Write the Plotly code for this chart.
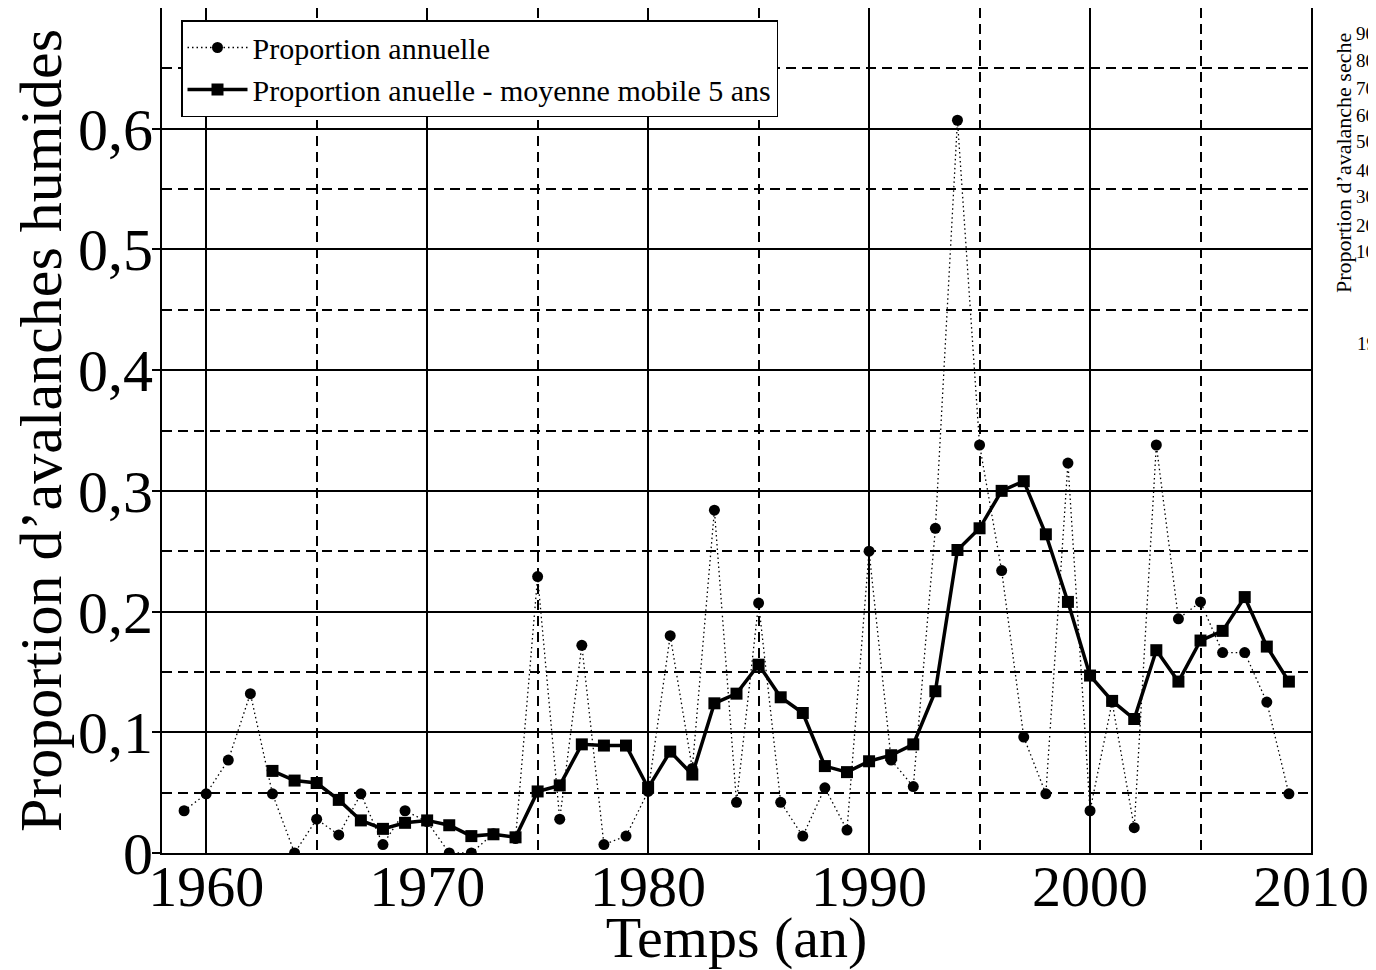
import plotly.graph_objects as go

# ---------------- data ----------------
years_annual = list(range(1959, 2010))
annual = [0.035, 0.049, 0.077, 0.132, 0.049, 0.0, 0.028, 0.015, 0.049, 0.007,
          0.035, 0.026, 0.0, 0.0, 0.016, 0.012, 0.229, 0.028, 0.172, 0.007,
          0.014, 0.051, 0.180, 0.070, 0.284, 0.042, 0.207, 0.042, 0.014, 0.054,
          0.019, 0.250, 0.077, 0.055, 0.269, 0.607, 0.338, 0.234, 0.096, 0.049,
          0.323, 0.035, 0.125, 0.021, 0.338, 0.194, 0.208, 0.166, 0.166, 0.125,
          0.049]

years_ma = list(range(1963, 2010))
moving_avg = [0.068, 0.060, 0.058, 0.044, 0.027, 0.020, 0.025, 0.027, 0.023, 0.014,
              0.0155, 0.013, 0.051, 0.056, 0.090, 0.089, 0.089, 0.054, 0.084, 0.065,
              0.124, 0.132, 0.156, 0.129, 0.116, 0.072, 0.067, 0.076, 0.081, 0.090,
              0.134, 0.251, 0.269, 0.300, 0.308, 0.264, 0.208, 0.147, 0.126, 0.111,
              0.168, 0.142, 0.176, 0.184, 0.212, 0.171, 0.142]

series_names = ["Proportion annuelle", "Proportion anuelle - moyenne mobile 5 ans"]
y_tickvals = [0, 0.1, 0.2, 0.3, 0.4, 0.5, 0.6]
y_ticktext = ["0", "0,1", "0,2", "0,3", "0,4", "0,5", "0,6"]
x_tickvals = [1960, 1970, 1980, 1990, 2000, 2010]

# text of the neighbouring (cut-off) chart at the right edge
side_title = "Proportion d’avalanche seche"
side_ticks = ["90", "80", "70", "60", "50", "40", "30", "20", "10"]
side_tick_py = [33, 60, 88, 115, 142, 170, 197, 225, 252]
side_extra = "19"

FONT = "Liberation Serif"

# page geometry (the page body has an 8 px margin)
OFF = 8
PAGE_W, PAGE_H = 1376, 970
W, H = PAGE_W - OFF, PAGE_H - OFF
# plot-area edges in page pixels
L, R, T, B = 162, 1311, 8, 853


def px2paper_x(px):
    return (px - L) / (R - L)


def px2paper_y(py):
    return (B - py) / (B - T)


fig = go.Figure()

fig.add_trace(go.Scatter(
    x=years_annual, y=annual, name=series_names[0], mode="lines+markers",
    line=dict(color="black", width=1.3, dash="1.5px,3px"),
    marker=dict(symbol="circle", size=11, color="black"),
))
fig.add_trace(go.Scatter(
    x=years_ma, y=moving_avg, name=series_names[1], mode="lines+markers",
    line=dict(color="black", width=3.5),
    marker=dict(symbol="square", size=12, color="black"),
))

annotations = [
    dict(text=side_title, textangle=-90, x=px2paper_x(1343), y=px2paper_y(163),
         xref="paper", yref="paper", showarrow=False, xanchor="center",
         yanchor="middle", font=dict(family=FONT, size=22, color="black")),
]
for t, py in zip(side_ticks, side_tick_py):
    annotations.append(dict(text=t, x=px2paper_x(1355), y=px2paper_y(py),
                            xref="paper", yref="paper", showarrow=False,
                            xanchor="left", yanchor="middle", borderpad=0,
                            font=dict(family=FONT, size=19, color="black")))
annotations.append(dict(text=side_extra, x=px2paper_x(1356), y=px2paper_y(343),
                        xref="paper", yref="paper", showarrow=False,
                        xanchor="left", yanchor="middle", borderpad=0,
                        font=dict(family=FONT, size=19, color="black")))

fig.update_layout(
    width=W, height=H,
    margin=dict(l=L - OFF, r=PAGE_W - R, t=T - OFF, b=PAGE_H - B, pad=0,
                autoexpand=False),
    paper_bgcolor="white", plot_bgcolor="white",
    font=dict(family=FONT, color="black"),
    showlegend=True,
    legend=dict(x=px2paper_x(181), y=px2paper_y(20), xanchor="left", yanchor="top",
                bgcolor="white", bordercolor="black", borderwidth=1.5,
                font=dict(family=FONT, size=30, color="black"),
                tracegroupgap=0, itemwidth=60),
    annotations=annotations,
    xaxis=dict(
        range=[1958, 2010], tickvals=x_tickvals, ticks="", ticklen=0,
        automargin=False, ticklabelstandoff=-19,
        showline=True, linecolor="black", linewidth=2, mirror=True,
        showgrid=True, gridcolor="black", gridwidth=1.5, zeroline=False,
        tickfont=dict(family=FONT, size=58, color="black"),
        minor=dict(dtick=5, tick0=1960, showgrid=True, gridcolor="black",
                   gridwidth=1.5, griddash="10px,6px", ticks=""),
        title=dict(text="Temps (an)", font=dict(family=FONT, size=58, color="black"),
                   standoff=18),
    ),
    yaxis=dict(
        range=[0, 0.7], tickvals=y_tickvals, ticktext=y_ticktext, automargin=False,
        ticks="outside", ticklen=8, tickcolor="black", tickwidth=1.5,
        ticklabelstandoff=-13,
        showline=True, linecolor="black", linewidth=2, mirror=True,
        showgrid=True, gridcolor="black", gridwidth=1.5, zeroline=False,
        tickfont=dict(family=FONT, size=60, color="black"),
        minor=dict(dtick=0.05, tick0=0, showgrid=True, gridcolor="black",
                   gridwidth=1.5, griddash="10px,6px", ticks=""),
        title=dict(text="Proportion d’avalanches humides",
                   font=dict(family=FONT, size=60, color="black"), standoff=26),
    ),
)

fig.write_html("out.html")
